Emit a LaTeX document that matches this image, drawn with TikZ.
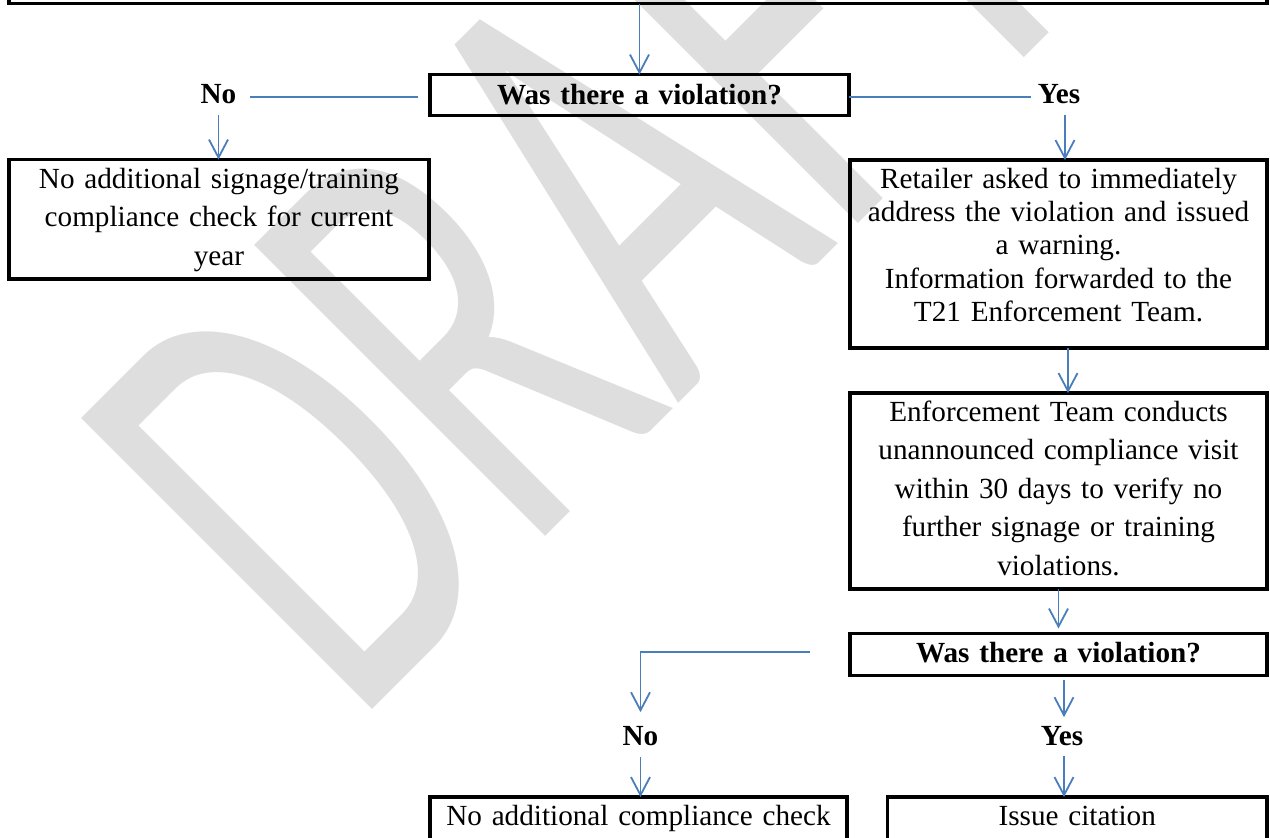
\documentclass[tikz,border=0pt]{standalone}
\usepackage{fontspec}
\setmainfont{Liberation Serif}
\newfontfamily\wmfont{Carlito}
\usepackage{tikz}
\usetikzlibrary{arrows.meta,positioning}
\definecolor{linkblue}{RGB}{74,126,187}
\definecolor{wmgray}{RGB}{222,222,222}

\begin{document}
\begin{tikzpicture}[x=0.5pt,y=-0.5pt]
    \tikzset{
      rectnode/.style={rectangle,draw=black,line width=1.75pt,inner sep=0pt,outer sep=0pt,text width=208.5pt,align=center,font=\fontsize{14.6}{19.2}\selectfont},
      decnode/.style={rectnode,font=\fontsize{14.6}{17.5}\selectfont\bfseries},
      answer/.style={inner sep=0pt,outer sep=0pt,anchor=base,font=\fontsize{14.6}{17.5}\selectfont\bfseries},
      arrow/.style={-{Straight Barb[length=9pt,width=9.5pt]},draw=linkblue,line width=0.9pt},
      link/.style={draw=linkblue,line width=0.9pt},
      watermark/.style={inner sep=0pt,text=wmgray,font=\wmfont\fontsize{198}{198}\selectfont}
    }
    \useasboundingbox (0,0) rectangle (1270,837);
    \node[watermark,rotate=45,anchor=base west](draft) at (353,729){\scalebox{1}[1.62]{DRAFT}};

    \node[rectangle,draw=black,line width=1.75pt,outer sep=0pt,minimum width=629pt,minimum height=60pt,anchor=south](topbox) at (638,3.5){};
    \node[decnode,text width=209.5pt,text height=15pt,text depth=5.5pt,anchor=north](check) at (639.5,74.5){Was there a violation?};
    \node[answer](no1) at (218.5,103){No};
    \node[answer](yes1) at (1059,103){Yes};
    \node[rectnode,text width=210pt,font=\fontsize{14.6}{19.15}\selectfont,text height=14.5pt,text depth=45.25pt,anchor=north](nosig) at (219,159.5){No additional signage/training\\compliance check for current\\year};
    \node[rectnode,font=\fontsize{14.6}{16.65}\selectfont,text height=14.15pt,text depth=79.85pt,anchor=north](warning) at (1058.5,160){Retailer asked to immediately\\address the violation and issued\\a warning.\\Information forwarded to the\\T21 Enforcement Team.};
    \node[rectnode,font=\fontsize{14.6}{19.3}\selectfont,text height=14pt,text depth=84pt,below=22.5pt of warning](visit){Enforcement Team conducts\\unannounced compliance visit\\within 30 days to verify no\\further signage or training\\violations.};
    \node[decnode,text height=14.25pt,text depth=6.75pt,below=22.25pt of visit](recheck){Was there a violation?};
    \node[answer](no2) at (640.5,745){No};
    \node[answer](yes2) at (1062,745){Yes};
    \node[rectnode,text height=14pt,text depth=30pt,anchor=north](nocheck) at (638.5,797){No additional compliance check};
    \node[rectnode,text width=189.75pt,text height=14pt,text depth=30pt,anchor=north](citation) at (1077.25,797){Issue citation};

    \draw[arrow](check.north |- topbox.south) -- (check.north);
    \draw[link,shorten <=6pt,shorten >=6.85pt]([yshift=-1pt]check.west) -- ([yshift=-1pt]check.west -| no1.east);
    \draw[link,shorten >=3.65pt]([yshift=-1pt]check.east) -- ([yshift=-1pt]check.east -| yes1.west);
    \draw[arrow,shorten <=6pt](no1.south) -- (no1.south |- nosig.north);
    \draw[arrow,shorten <=6pt]([xshift=3pt]yes1.south) -- ([xshift=3pt]yes1.south |- warning.north);
    \draw[arrow]([xshift=4.75pt]warning.south) -- ([xshift=4.75pt]visit.north);
    \draw[arrow,shorten >=2.5pt](visit.south) -- (recheck.north);
    \draw[arrow,shorten >=6.85pt]([xshift=-20pt,yshift=1.25pt]recheck.west) -| (no2.north);
    \draw[arrow,shorten <=6pt](no2.south) -- (no2.south |- nocheck.north);
    \draw[arrow,shorten <=2.25pt,shorten >=4.35pt]([xshift=1pt]yes2.north |- recheck.south) -- ([xshift=1pt]yes2.north);
    \draw[arrow,shorten <=5.5pt]([xshift=1pt]yes2.south) -- ([xshift=1pt]yes2.south |- citation.north);
\end{tikzpicture}
\end{document}
